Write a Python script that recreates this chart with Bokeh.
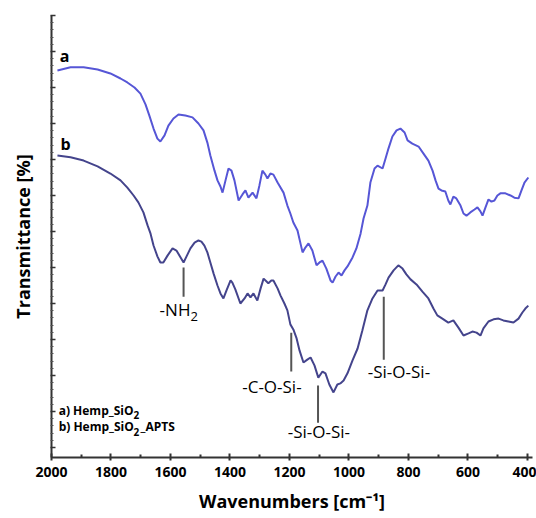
from bokeh.plotting import figure
from bokeh.models import Range1d, FixedTicker
from bokeh.core.properties import value
from bokeh.embed import file_html
from bokeh.resources import INLINE

# Curve a: Hemp_SiO2
wn_a = [1980, 1936, 1892, 1845, 1802, 1768, 1745, 1721, 1701, 1684, 1671, 1657, 1644, 1634, 1620, 1607,
        1590, 1573, 1550, 1526, 1506, 1489, 1476, 1466, 1452, 1442, 1432, 1425, 1415, 1405, 1395, 1385,
        1371, 1358, 1348, 1338, 1324, 1311, 1301, 1291, 1281, 1274, 1264, 1254, 1240, 1220, 1207, 1197,
        1187, 1173, 1163, 1156, 1146, 1136, 1123, 1109, 1099, 1089, 1076, 1062, 1055, 1045, 1035, 1025,
        1015, 1005, 988, 975, 961, 951, 938, 928, 914, 904, 887, 877, 867, 854, 840, 827, 813, 803, 787,
        766, 750, 733, 719, 709, 699, 689, 676, 666, 659, 649, 639, 625, 615, 605, 592, 578, 568, 558,
        551, 541, 531, 521, 511, 501, 491, 474, 457, 444, 430, 420, 410, 397]
tr_a = [104.7, 105.6, 105.6, 105.0, 103.9, 102.5, 101.4, 100.0, 98.3, 95.3, 92.2, 88.6, 85.8, 85.0, 86.7, 89.4,
        91.4, 92.5, 92.2, 91.7, 90.0, 88.1, 84.7, 81.1, 76.9, 74.2, 72.5, 70.8, 74.2, 77.5, 76.9, 74.2,
        68.6, 70.3, 71.4, 69.4, 70.8, 69.2, 72.8, 76.9, 75.8, 74.7, 76.1, 75.8, 73.6, 70.8, 67.2, 65.0,
        62.5, 60.3, 56.7, 54.2, 55.6, 56.7, 54.7, 50.6, 51.4, 51.9, 49.7, 46.4, 45.8, 47.5, 48.6, 47.8,
        49.2, 50.3, 52.8, 55.3, 59.4, 63.6, 67.2, 73.6, 77.5, 78.3, 77.5, 80.3, 83.1, 86.4, 88.1, 88.6, 87.5,
        85.3, 84.4, 83.6, 81.7, 79.7, 76.9, 74.2, 71.9, 71.4, 71.1, 68.6, 67.5, 69.7, 69.2, 67.2, 65.0,
        64.4, 65.3, 66.1, 66.7, 65.6, 64.4, 66.7, 68.9, 68.3, 68.6, 70.0, 70.6, 70.6, 70.0, 69.4, 69.2,
        71.4, 73.6, 75.0]

# Curve b: Hemp_SiO2_APTS
wn_b = [1980, 1936, 1892, 1845, 1802, 1768, 1745, 1724, 1708, 1691, 1677, 1667, 1657, 1644, 1634, 1624,
        1610, 1593, 1580, 1566, 1556, 1546, 1533, 1519, 1506, 1496, 1486, 1476, 1466, 1455, 1442, 1432,
        1422, 1412, 1398, 1392, 1382, 1365, 1351, 1341, 1331, 1321, 1308, 1297, 1287, 1277, 1271, 1261,
        1254, 1240, 1230, 1217, 1207, 1197, 1187, 1176, 1166, 1153, 1140, 1129, 1116, 1103, 1089, 1079,
        1066, 1052, 1039, 1029, 1018, 1005, 988, 971, 955, 938, 921, 904, 887, 877, 867, 850, 834, 820,
        807, 793, 773, 753, 733, 716, 703, 686, 666, 649, 632, 615, 598, 585, 571, 558, 548, 531, 514,
        497, 481, 464, 447, 430, 417, 407, 397]
tr_b = [81.1, 80.6, 79.7, 78.1, 76.1, 74.2, 72.2, 70.0, 68.1, 65.3, 61.7, 59.4, 56.1, 53.1, 51.4, 51.4,
        53.3, 55.3, 54.7, 52.8, 51.4, 53.1, 55.3, 56.9, 57.5, 57.2, 56.1, 54.2, 51.4, 48.3, 45.0, 42.8,
        41.4, 43.6, 46.4, 45.8, 43.9, 40.0, 41.4, 42.8, 41.7, 42.8, 40.8, 44.2, 46.9, 46.1, 45.6, 46.4,
        46.4, 44.2, 42.2, 40.0, 38.1, 34.2, 32.8, 30.3, 26.9, 23.6, 24.4, 25.0, 22.8, 19.4, 21.1, 20.6,
        17.5, 15.3, 17.5, 17.8, 18.6, 20.6, 24.2, 27.5, 32.5, 38.1, 41.4, 43.6, 43.6, 45.3, 47.2, 49.2,
        50.6, 49.7, 48.1, 46.7, 45.3, 43.3, 41.4, 38.6, 36.7, 35.8, 34.7, 35.3, 33.3, 31.1, 31.7, 32.2,
        31.9, 31.1, 33.1, 35.0, 35.6, 35.8, 35.3, 35.0, 34.7, 35.8, 37.5, 38.6, 39.4]

x_major_ticks = [400, 600, 800, 1000, 1200, 1400, 1600, 1800, 2000]
x_minor_ticks = [500, 700, 900, 1100, 1300, 1500, 1700, 1900]
y_major_ticks = [0, 10, 20, 30, 40, 50, 60, 70, 80, 90, 100, 110, 120]
y_minor_ticks = [v for v in range(0, 121, 2) if v % 10 != 0]

# Band annotations
ann_labels = ["-C-O-Si-", "-Si-O-Si-", "-Si-O-Si-"]
ann_label_x = [1259, 1101, 832]
ann_label_y = [16.9, 4.4, 21.1]
mark_x = [1556, 1194, 1104, 883]
mark_top = [50.0, 31.9, 17.2, 41.9]
mark_bot = [41.9, 21.1, 6.9, 24.4]

FONT = "Open Sans"

p = figure(width=536, height=518, output_backend="svg", toolbar_location=None,
           x_range=Range1d(2000, 383), y_range=Range1d(-2.78, 120))
p.min_border_left = 51
p.min_border_right = 4
p.min_border_top = 15
p.min_border_bottom = 61
p.outline_line_color = None
p.xgrid.visible = False
p.ygrid.visible = False
p.background_fill_color = "white"

p.line(wn_a, tr_a, line_color="#5656d6", line_width=2)
p.line(wn_b, tr_b, line_color="#44448c", line_width=2)

# x axis
xa = p.xaxis[0]
xa.ticker = FixedTicker(ticks=x_major_ticks, minor_ticks=x_minor_ticks)
xa.axis_line_color = "#333333"
xa.axis_line_width = 2
xa.major_tick_line_color = "#333333"
xa.major_tick_line_width = 2
xa.major_tick_in = 4
xa.major_tick_out = 3
xa.minor_tick_line_color = "#333333"
xa.minor_tick_line_width = 2
xa.minor_tick_in = 3
xa.minor_tick_out = 0
xa.major_label_text_font = FONT
xa.major_label_text_font_style = "bold"
xa.major_label_text_font_size = "14px"
xa.major_label_text_color = "black"
xa.major_label_standoff = 6
xa.axis_label = "Wavenumbers [cm\u207b\u00b9]"
xa.axis_label_text_font = FONT
xa.axis_label_text_font_style = "bold"
xa.axis_label_text_font_size = "18px"
xa.axis_label_text_color = "black"
xa.axis_label_standoff = 9

# y axis (ticks only, no tick labels)
ya = p.yaxis[0]
ya.ticker = FixedTicker(ticks=y_major_ticks, minor_ticks=y_minor_ticks)
ya.axis_line_color = "#333333"
ya.axis_line_width = 2
ya.major_tick_line_color = "#333333"
ya.major_tick_line_width = 1.5
ya.major_tick_in = 4
ya.major_tick_out = 1
ya.minor_tick_line_color = "#555555"
ya.minor_tick_line_width = 1
ya.minor_tick_in = 2
ya.minor_tick_out = 1
ya.major_label_overrides = {t: "" for t in y_major_ticks}
ya.major_label_text_color = None
ya.axis_label = "Transmittance [%]"
ya.axis_label_text_font = FONT
ya.axis_label_text_font_style = "bold"
ya.axis_label_text_font_size = "18px"
ya.axis_label_text_color = "black"
ya.axis_label_standoff = 16

# band marker lines
p.segment(x0=mark_x, y0=mark_bot, x1=mark_x, y1=mark_top, line_color="#555555", line_width=2)

# band labels
p.text(x=ann_label_x, y=ann_label_y, text=ann_labels, text_font=value(FONT), text_font_size="17px",
       text_align="center", text_baseline="middle", text_color="black")
p.text(x=[1533], y=[38.3], text=["-NH"], text_font=value(FONT), text_font_size="17px",
       text_align="right", text_baseline="middle", text_color="black")
p.text(x=[1533], y=[36.4], text=["2"], text_font=value(FONT), text_font_size="13px",
       text_align="left", text_baseline="middle", text_color="black")

# curve letters
p.text(x=[1956, 1953], y=[108.8, 84.4], text=["a", "b"], text_font=value(FONT), text_font_size="16px",
       text_font_style="bold", text_align="center", text_baseline="middle", text_color="black")

# sample legend
p.text(x=[1976, 1976], y=[10.3, 5.8], text=["a) Hemp_SiO", "b) Hemp_SiO"], text_font=value(FONT),
       text_font_size="12px", text_font_style="bold", text_align="left", text_baseline="middle",
       text_color="black")
p.text(x=[1724, 1724], y=[8.9, 4.4], text=["2", "2"], text_font=value(FONT),
       text_font_size="10px", text_font_style="bold", text_align="left", text_baseline="middle",
       text_color="black")
p.text(x=[1701], y=[5.8], text=["_APTS"], text_font=value(FONT),
       text_font_size="12px", text_font_style="bold", text_align="left", text_baseline="middle",
       text_color="black")

open("out.html", "w").write(file_html(p, INLINE))
